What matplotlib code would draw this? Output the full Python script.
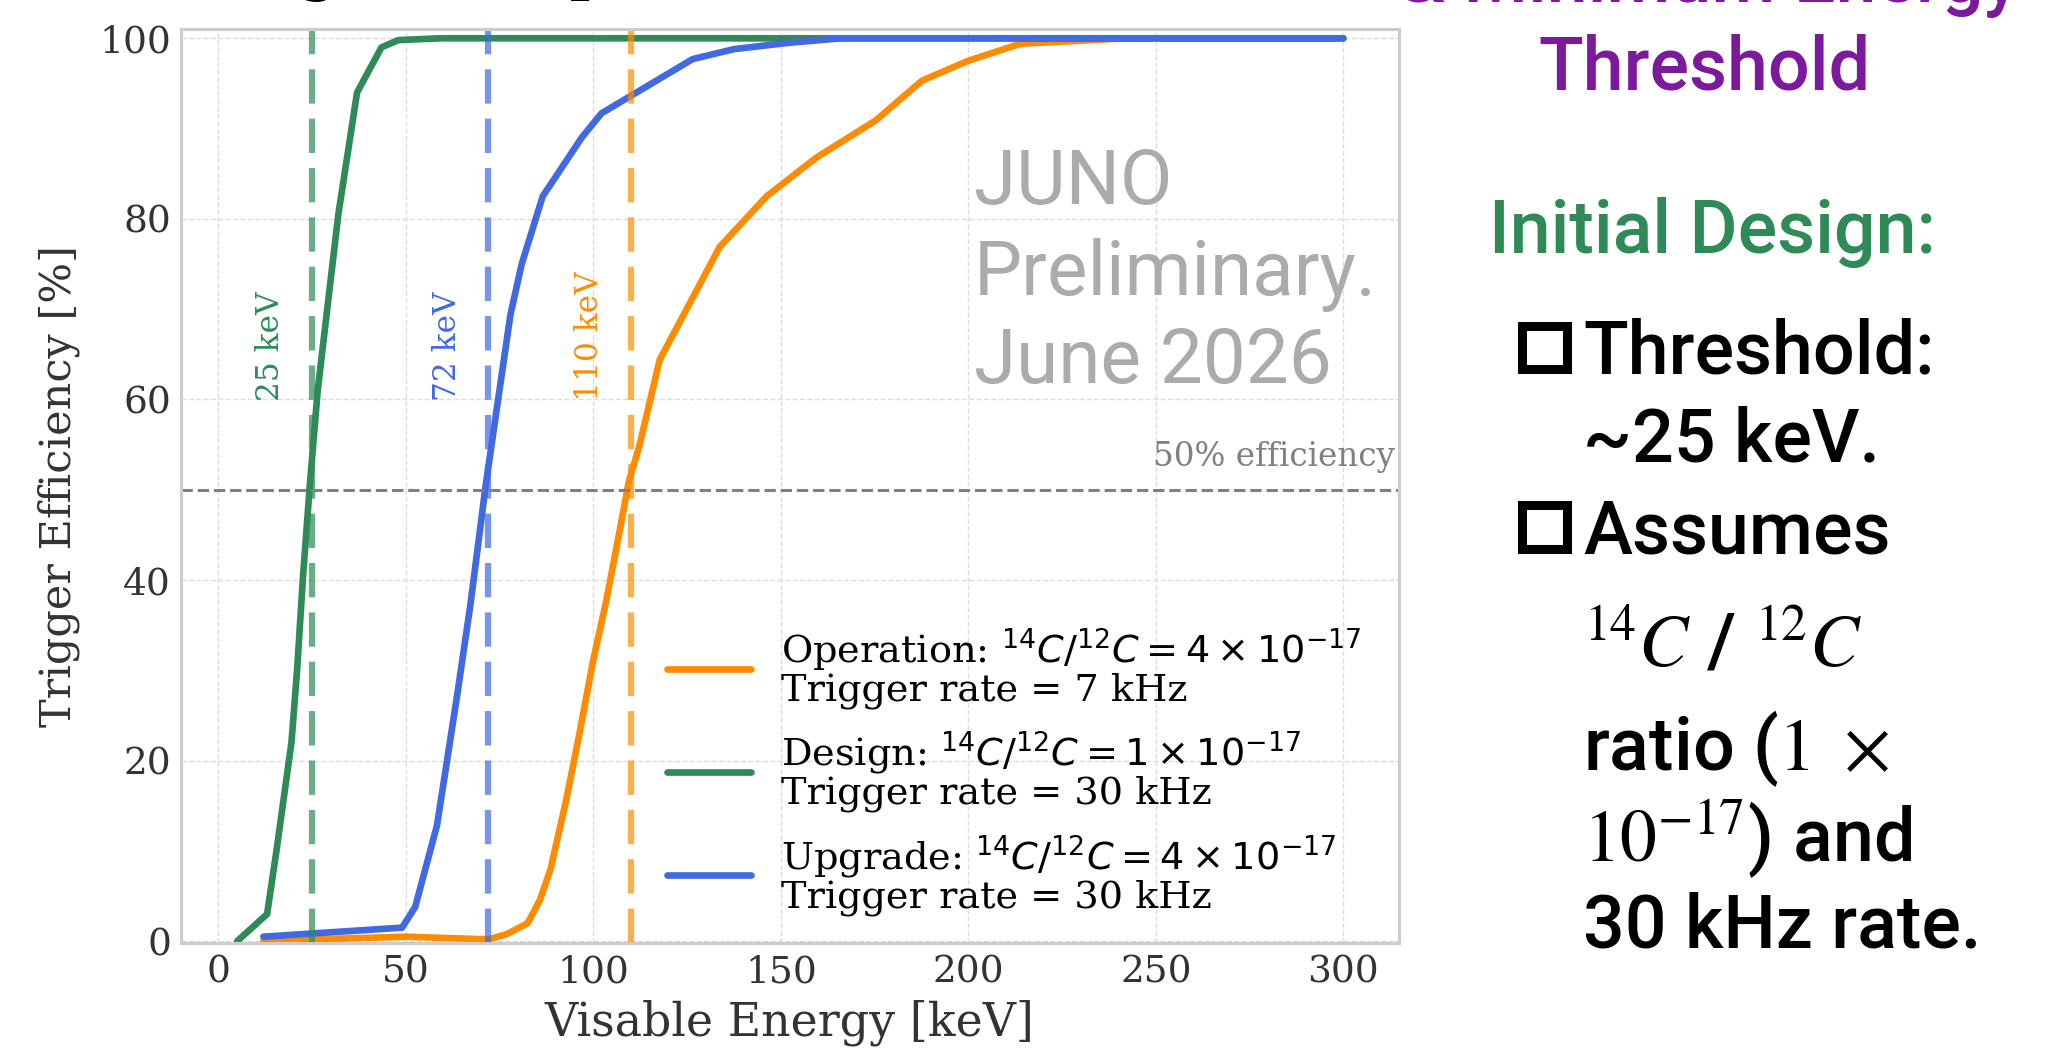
import matplotlib
matplotlib.use("Agg")
import matplotlib.pyplot as plt
from matplotlib.patches import Rectangle

# efficiency curves (energy in keV, efficiency in %)
energy_operation = [12, 25, 50, 72, 77, 82.5, 85.8, 88.6, 92.7, 96.3, 99.9, 103.4, 107, 109.4,
                    112.3, 117.7, 133.7, 146.2, 159.5, 175.3, 187.6, 199.9, 213.9, 242, 300]
eff_operation = [0.0, 0.2, 0.5, 0.2, 0.8, 2.0, 4.6, 8.0, 15.5, 23.0, 31.0, 37.6, 45.4, 50.8,
                 54.9, 64.4, 76.9, 82.5, 86.8, 90.9, 95.3, 97.5, 99.4, 100, 100]

energy_design = [5, 13, 15.5, 19.5, 21, 22.6, 24.4, 26.5, 32, 37, 43.5, 48, 59, 300]
eff_design = [0, 3.0, 10.0, 22.0, 30.0, 40.5, 50.5, 61.0, 80.5, 94.0, 99.0, 99.8, 100, 100]

energy_upgrade = [12, 49, 52.5, 58.3, 63.6, 67.2, 71.3, 77.9, 80.9, 86.5, 96.9, 102.2,
                  126.5, 137.5, 152, 166, 300]
eff_upgrade = [0.5, 1.5, 3.8, 12.8, 27.0, 37.2, 50.5, 69.4, 75.0, 82.5, 89.0, 91.7,
               97.7, 98.8, 99.5, 100, 100]

labels = [
    "Operation: $^{14}C/^{12}C = 4\\times10^{-17}$\nTrigger rate = 7 kHz",
    "Design: $^{14}C/^{12}C = 1\\times10^{-17}$\nTrigger rate = 30 kHz",
    "Upgrade: $^{14}C/^{12}C = 4\\times10^{-17}$\nTrigger rate = 30 kHz",
]
colors = ["darkorange", "seagreen", "royalblue"]
thresholds = [25, 72, 110]
threshold_colors = ["seagreen", "royalblue", "darkorange"]

plt.rcParams["font.family"] = "DejaVu Serif"
plt.rcParams["mathtext.fontset"] = "dejavusans"

fig = plt.figure(figsize=(20.69, 10.61), dpi=100)
ax = fig.add_axes([0.0874, 0.1112, 0.5886, 0.8612])

curves = [(energy_operation, eff_operation), (energy_design, eff_design),
          (energy_upgrade, eff_upgrade)]
for (x, y), c, lab in zip(curves, colors, labels):
    ax.plot(x, y, color=c, lw=4.8, label=lab, solid_capstyle="round")

for thr, c in zip(thresholds, threshold_colors):
    ax.axvline(thr, color=c, lw=4.5, ls=(0, (5.5, 2.4)), alpha=0.7)
    ax.text(thr - 11, 59.8, f"{thr} keV", rotation=90, ha="center", va="bottom",
            color=c, fontsize=22.5)

ax.axhline(50, color="gray", lw=2.2, ls="--")
ax.text(313.8, 52.6, "50% efficiency", ha="right", va="baseline", color="gray",
        fontsize=23.5)

for line, yb in zip(["JUNO", "Preliminary.", "June 2026"], [81.7, 71.6, 61.8]):
    ax.text(201.5, yb, line, family="Roboto", fontsize=55,
            color="#ababab", va="baseline", ha="left")

ax.set_xlim(-10, 314.75)
ax.set_ylim(-0.2, 101)
ax.set_xticks([0, 50, 100, 150, 200, 250, 300])
ax.set_yticks([0, 20, 40, 60, 80, 100])
ax.grid(True, ls="--", lw=1, color="#dddddd")
ax.set_axisbelow(True)
ax.tick_params(length=0, labelsize=27, labelcolor="#333333")
ax.tick_params(axis="x", pad=8)
ax.tick_params(axis="y", pad=7)
for s in ax.spines.values():
    s.set_color("#cccccc")
    s.set_linewidth(2.2)
ax.set_xlabel("Visable Energy [keV]", fontsize=33, color="#333333", labelpad=7)
ax.set_ylabel("Trigger Efficiency [%]", fontsize=31, color="#333333", labelpad=14)

leg = ax.legend(loc="lower left", bbox_to_anchor=(0.399, 0.03), frameon=False,
                fontsize=27.5, handlelength=2.2, handletextpad=0.8, borderpad=0,
                borderaxespad=0, labelspacing=0.55)
for t in leg.get_texts():
    t.set_linespacing(0.95)

# slide text around the chart
fig.text(142 / 2069, 1 + 13 / 1061, "Design Comparison", fontsize=50,
         color="black", va="baseline", ha="left")
fig.text(2019 / 2069, 1 - 1.7 / 1061, "& Minimum Energy", family="Roboto",
         fontsize=53, weight="medium", color="#7b1a9c", va="baseline", ha="right")
fig.text(1704 / 2069, 1 - 89.5 / 1061, "Threshold", family="Roboto", fontsize=53,
         weight="medium", color="#7b1a9c", va="baseline", ha="center")
fig.text(1489 / 2069, 1 - 253 / 1061, "Initial Design:", family="Roboto", fontsize=53,
         weight="medium", color="#2e8b57", va="baseline", ha="left")

bullet_lines = ["Threshold:", "~25 keV.", "Assumes", "$^{14}C$ / $^{12}C$",
                "ratio ($1\\ \\times$", "$10^{-17}$) and", "30 kHz rate."]
bullet_base = [374, 462, 553, 666, 770, 861, 948]
for txt, yb in zip(bullet_lines, bullet_base):
    fig.text(1583 / 2069, 1 - yb / 1061, txt, family="Roboto", fontsize=53,
             weight="medium", color="black", va="baseline", ha="left",
             math_fontfamily="stix")

for yb in [374, 553]:
    fig.add_artist(Rectangle((1522 / 2069, 1 - (yb - 4.5) / 1061), 44.5 / 2069, 43 / 1061,
                             transform=fig.transFigure, fill=False, lw=6.5,
                             ec="black"))

fig.savefig("out.png", dpi=100)
